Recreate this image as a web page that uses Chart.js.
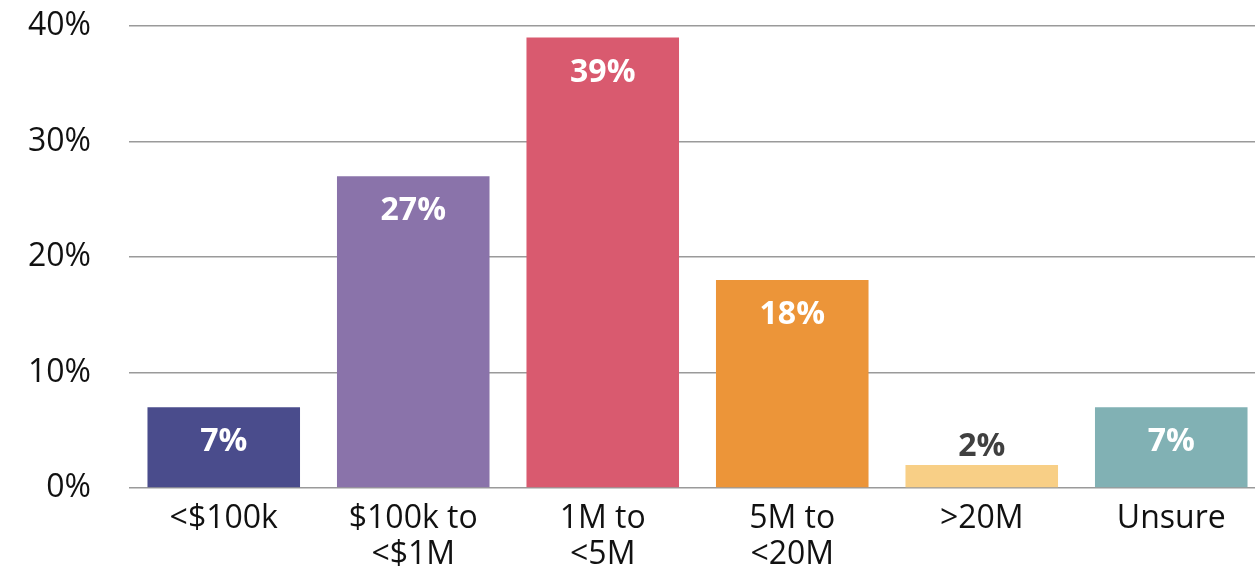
<!DOCTYPE html>
<html>
<head>
<meta charset="utf-8">
<script src="https://cdn.jsdelivr.net/npm/chart.js@4/dist/chart.umd.min.js"></script>
<style>
  html, body { margin: 0; padding: 0; background: #fff; overflow: hidden; }
  #wrap { width: 1266px; height: 572px; position: relative; }
</style>
</head>
<body>
<div id="wrap"><canvas id="budgetChart"></canvas></div>
<script>
// Share of respondents by budget range
const categories = ['<$100k', ['$100k to', '<$1M'], ['1M to', '<5M'], ['5M to', '<20M'], '>20M', 'Unsure'];
const shares = [7, 27, 39, 18, 2, 7];
const barColors = ['#4a4c8c', '#8a73aa', '#d95a6f', '#ec9539', '#f8cf86', '#81b1b4'];
const yTicks = [0, 10, 20, 30, 40];

const FONT = "'Open Sans', 'Noto Sans', sans-serif";

// Value labels: inside the bar near its top, or above it when the bar is too short
const valueLabels = {
    id: 'valueLabels',
    afterDatasetsDraw(chart) {
        const ctx = chart.ctx;
        const meta = chart.getDatasetMeta(0);
        ctx.save();
        ctx.font = `bold 32px ${FONT}`;
        ctx.textAlign = 'center';
        ctx.textBaseline = 'middle';
        meta.data.forEach((bar, i) => {
            const v = shares[i];
            const text = v + '%';
            if (v < 5) {
                ctx.fillStyle = '#404040';
                ctx.fillText(text, bar.x, bar.y - 18);
            } else {
                ctx.fillStyle = '#ffffff';
                ctx.fillText(text, bar.x, bar.y + 35);
            }
        });
        ctx.restore();
    }
};

new Chart(document.getElementById('budgetChart'), {
    type: 'bar',
    data: {
        labels: categories,
        datasets: [{
            data: shares,
            backgroundColor: barColors,
            borderWidth: 0,
            categoryPercentage: 1,
            barPercentage: 0.805
        }]
    },
    options: {
        responsive: true,
        maintainAspectRatio: false,
        animation: false,
        layout: { padding: { top: 26, left: 0, right: 0, bottom: 0 } },
        plugins: {
            legend: { display: false },
            tooltip: { enabled: false }
        },
        scales: {
            x: {
                afterFit(scale) { scale.height = 84; },
                grid: { display: false, drawTicks: false },
                border: { display: false },
                ticks: {
                    color: '#111',
                    padding: 13,
                    maxRotation: 0,
                    autoSkip: false,
                    font: { family: FONT, size: 32, lineHeight: 1.125 }
                }
            },
            y: {
                min: 0,
                max: 40,
                afterFit(scale) {
                    // fixed axis width; no extra room for the half-height of end labels
                    scale.width = 129;
                    scale.paddingTop = 0;
                    scale.paddingBottom = 0;
                },
                afterBuildTicks(scale) { scale.ticks = yTicks.map(v => ({ value: v })); },
                grid: { color: '#9a9a9a', lineWidth: 1.5, drawTicks: false },
                border: { display: false },
                ticks: {
                    color: '#111',
                    padding: 38,
                    font: { family: FONT, size: 32 },
                    callback: v => v + '%'
                }
            }
        }
    },
    plugins: [valueLabels]
});
</script>
</body>
</html>
